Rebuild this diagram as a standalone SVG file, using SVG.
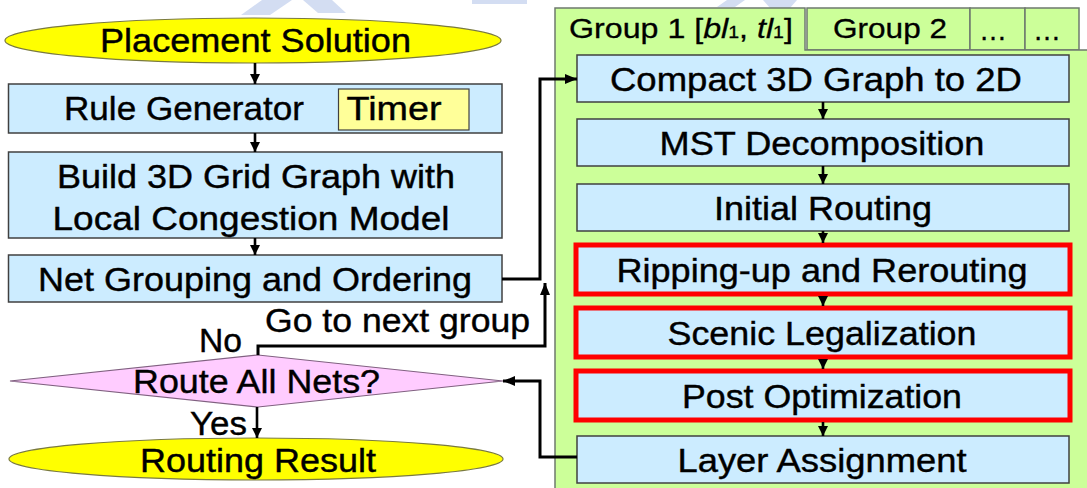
<svg xmlns="http://www.w3.org/2000/svg" width="1087" height="488" viewBox="0 0 1087 488">
  <defs>
    <style>
      .box  { fill: #CCECFF; stroke: #404040; stroke-width: 1.5; }
      .hot  { fill: #CCECFF; stroke: #FF0000; stroke-width: 5; }
      .term { fill: #FFFF00; stroke: #7A7A40; stroke-width: 1.2; }
      .note { fill: #FFFF99; stroke: #404040; stroke-width: 1.2; }
      .ask  { fill: #FFCCFF; stroke: #806080; stroke-width: 1.2; }
      .panel { fill: #CCFF99; stroke: #6E7A6E; stroke-width: 1.5; }
      .lbl  { font-family: "Liberation Sans", Arial, sans-serif; font-size: 33px; fill: #000; stroke: #000; stroke-width: 0.4; text-anchor: middle; }
      .tab  { font-family: "Liberation Sans", Arial, sans-serif; font-size: 28px; fill: #000; stroke: #000; stroke-width: 0.3; }
      .wire { fill: none; stroke: #000; stroke-width: 3; }
      .step { fill: none; stroke: #000; stroke-width: 2.6; }
      .mark { fill: #D3DDF2; }
    </style>
    <marker id="head" viewBox="0 0 12 10" refX="12" refY="5" markerWidth="12" markerHeight="10" markerUnits="userSpaceOnUse" orient="auto">
      <path d="M0,0 L12,5 L0,10 z" fill="#000"/>
    </marker>
    <marker id="tip" viewBox="0 0 10 10" refX="10" refY="5" markerWidth="10" markerHeight="10" markerUnits="userSpaceOnUse" orient="auto">
      <path d="M0,0 L10,5 L0,10 z" fill="#000"/>
    </marker>
  </defs>

  <rect width="1087" height="488" fill="#FFFFFF"/>

  <!-- faint backdrop marks along the top edge -->
  <g id="backdrop">
    <polygon class="mark" points="241,15 262,0 292,0 270,15"/>
    <polygon class="mark" points="303,0 332,0 346,13 318,13"/>
    <polygon class="mark" points="472,0 527,0 527,4 472,4"/>
    <polygon class="mark" points="717,7 727,0 745,0 735,7"/>
    <polygon class="mark" points="763,0 797,0 790,8 770,8"/>
  </g>

  <!-- group panel with tabs -->
  <g id="group-panel">
    <rect class="panel" x="807" y="8" width="163" height="42"/>
    <rect class="panel" x="970" y="8" width="55" height="42"/>
    <rect class="panel" x="1025" y="8" width="54" height="42"/>
    <path class="panel" d="M555,490 V8 H805 V50 H1090 V490 Z"/>
    <text class="tab" transform="translate(569,38) scale(1.15,1)">Group 1 [<tspan font-style="italic">bl</tspan><tspan font-size="17">1</tspan>, <tspan font-style="italic">tl</tspan><tspan font-size="17">1</tspan>]</text>
    <text class="tab" text-anchor="middle" x="890" y="38" textLength="114" lengthAdjust="spacingAndGlyphs">Group 2</text>
    <text class="tab" text-anchor="middle" x="993" y="40">…</text>
    <text class="tab" text-anchor="middle" x="1047" y="40">…</text>
  </g>

  <!-- left flow -->
  <g id="placement-solution">
    <ellipse class="term" cx="253" cy="40.5" rx="248" ry="22.5"/>
    <text class="lbl" x="255.5" y="52" textLength="311" lengthAdjust="spacingAndGlyphs">Placement Solution</text>
  </g>

  <g id="rule-generator">
    <rect class="box" x="8.5" y="84" width="493.5" height="49"/>
    <text class="lbl" x="184" y="120" textLength="240" lengthAdjust="spacingAndGlyphs">Rule Generator</text>
  </g>

  <g id="timer">
    <rect class="note" x="338.5" y="89" width="130.5" height="41"/>
    <text class="lbl" x="394" y="120" textLength="95" lengthAdjust="spacingAndGlyphs">Timer</text>
  </g>

  <g id="build-grid-graph">
    <rect class="box" x="8.5" y="152" width="493.5" height="86"/>
    <text class="lbl" x="256" y="187.5" textLength="398" lengthAdjust="spacingAndGlyphs">Build 3D Grid Graph with</text>
    <text class="lbl" x="251" y="229.5" textLength="397" lengthAdjust="spacingAndGlyphs">Local Congestion Model</text>
  </g>

  <g id="net-grouping">
    <rect class="box" x="8.5" y="255" width="493.5" height="47"/>
    <text class="lbl" x="255" y="291" textLength="434" lengthAdjust="spacingAndGlyphs">Net Grouping and Ordering</text>
  </g>

  <g id="route-all-nets">
    <polygon class="ask" points="10,381 258,355 503,381 258,407"/>
    <text class="lbl" x="256.5" y="393" textLength="247" lengthAdjust="spacingAndGlyphs">Route All Nets?</text>
  </g>

  <g id="routing-result">
    <ellipse class="term" cx="256" cy="459" rx="247" ry="21"/>
    <text class="lbl" x="258" y="471.5" textLength="236" lengthAdjust="spacingAndGlyphs">Routing Result</text>
  </g>

  <!-- per-group routing steps -->
  <g id="compact-graph">
    <rect class="box" x="577" y="55" width="492" height="47"/>
    <text class="lbl" x="816" y="90.5" textLength="412" lengthAdjust="spacingAndGlyphs">Compact 3D Graph to 2D</text>
  </g>

  <g id="mst-decomposition">
    <rect class="box" x="577" y="119" width="492" height="47"/>
    <text class="lbl" x="822" y="154.5" textLength="325" lengthAdjust="spacingAndGlyphs">MST Decomposition</text>
  </g>

  <g id="initial-routing">
    <rect class="box" x="577" y="184" width="492" height="47"/>
    <text class="lbl" x="823" y="219.5" textLength="218" lengthAdjust="spacingAndGlyphs">Initial Routing</text>
  </g>

  <g id="rip-up-reroute">
    <rect class="hot" x="576" y="245" width="494" height="49"/>
    <text class="lbl" x="822" y="281.5" textLength="411" lengthAdjust="spacingAndGlyphs">Ripping-up and Rerouting</text>
  </g>

  <g id="scenic-legalization">
    <rect class="hot" x="576" y="308" width="494" height="49"/>
    <text class="lbl" x="822" y="344.5" textLength="309" lengthAdjust="spacingAndGlyphs">Scenic Legalization</text>
  </g>

  <g id="post-optimization">
    <rect class="hot" x="576" y="371" width="494" height="49"/>
    <text class="lbl" x="822" y="407.5" textLength="280" lengthAdjust="spacingAndGlyphs">Post Optimization</text>
  </g>

  <g id="layer-assignment">
    <rect class="box" x="577" y="436" width="492" height="47"/>
    <text class="lbl" x="822" y="471.5" textLength="289" lengthAdjust="spacingAndGlyphs">Layer Assignment</text>
  </g>

  <!-- connectors -->
  <g id="connectors">
    <line class="step" x1="255" y1="63" x2="255" y2="84" marker-end="url(#tip)"/>
    <line class="step" x1="255" y1="133" x2="255" y2="152" marker-end="url(#tip)"/>
    <line class="step" x1="255" y1="238" x2="255" y2="255" marker-end="url(#tip)"/>
    <line class="step" x1="257" y1="407" x2="257" y2="438" marker-end="url(#tip)"/>

    <path class="wire" d="M502,279 H540 V79 H577" marker-end="url(#head)"/>
    <path class="wire" d="M258,355 V346 H545 V283" marker-end="url(#head)"/>
    <path class="wire" d="M577,457 H540 V381 H503" marker-end="url(#head)"/>

    <line class="step" x1="823" y1="102" x2="823" y2="119" marker-end="url(#tip)"/>
    <line class="step" x1="823" y1="166" x2="823" y2="184" marker-end="url(#tip)"/>
    <line class="step" x1="823" y1="231" x2="823" y2="243" marker-end="url(#tip)"/>
    <line class="step" x1="823" y1="296" x2="823" y2="306" marker-end="url(#tip)"/>
    <line class="step" x1="823" y1="359" x2="823" y2="369" marker-end="url(#tip)"/>
    <line class="step" x1="823" y1="422" x2="823" y2="436" marker-end="url(#tip)"/>
  </g>

  <!-- branch labels -->
  <g id="branch-labels">
    <text class="lbl" x="397.5" y="332" textLength="265" lengthAdjust="spacingAndGlyphs">Go to next group</text>
    <text class="lbl" x="220.5" y="352" textLength="43" lengthAdjust="spacingAndGlyphs">No</text>
    <text class="lbl" x="218.5" y="435" textLength="57" lengthAdjust="spacingAndGlyphs">Yes</text>
  </g>
</svg>
